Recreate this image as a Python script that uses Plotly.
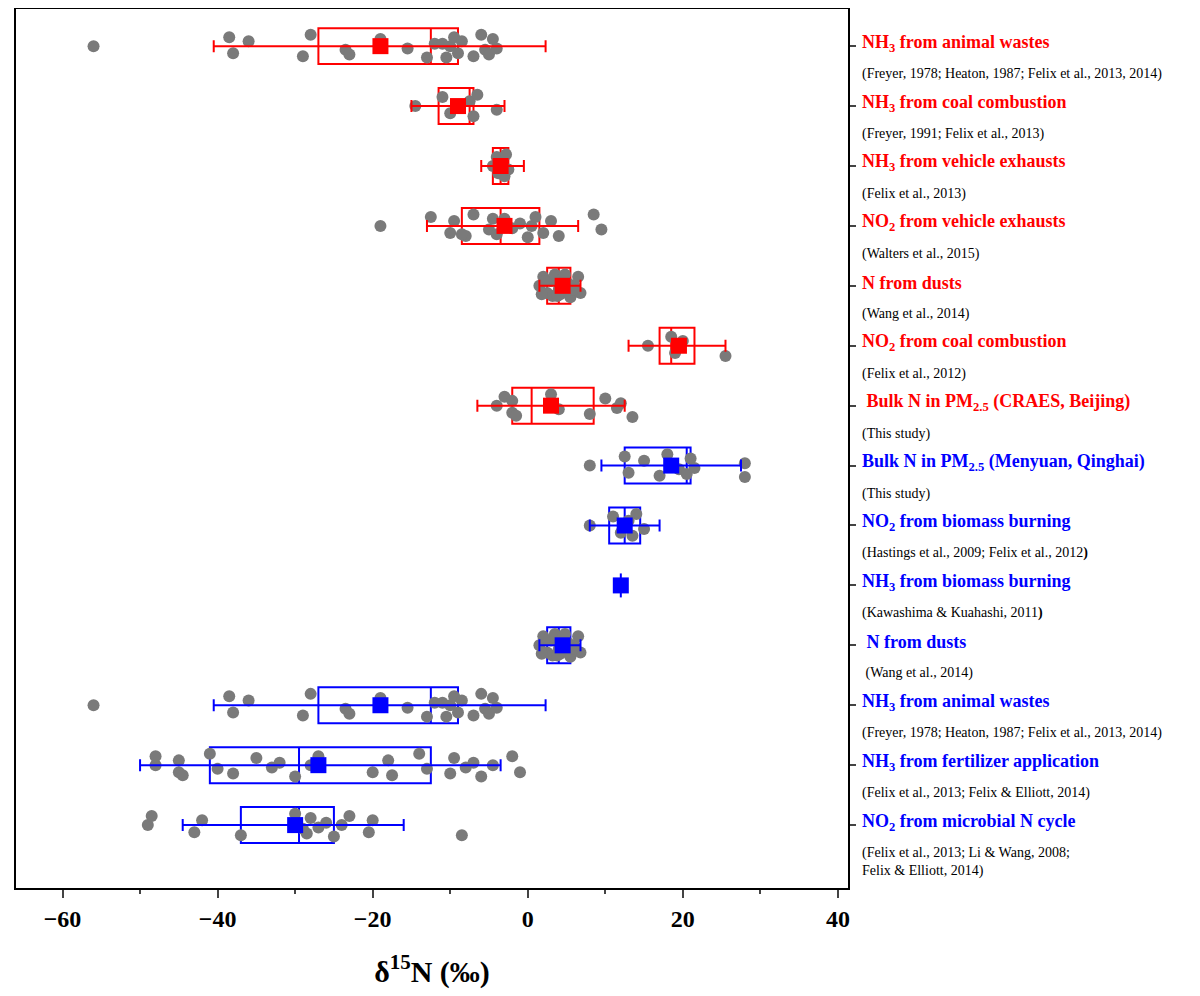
import plotly.graph_objects as go

RED = "#ff0000"
BLUE = "#0000ff"

titles = [
    "NH<sub>3</sub> from animal wastes", "NH<sub>3</sub> from coal combustion",
    "NH<sub>3</sub> from vehicle exhausts", "NO<sub>2</sub> from vehicle exhausts",
    "N from dusts", "NO<sub>2</sub> from coal combustion",
    " Bulk N in PM<sub>2.5</sub> (CRAES, Beijing)", "Bulk N in PM<sub>2.5</sub> (Menyuan, Qinghai)",
    "NO<sub>2</sub> from biomass burning", "NH<sub>3</sub> from biomass burning",
    " N from dusts", "NH<sub>3</sub> from animal wastes",
    "NH<sub>3</sub> from fertilizer application", "NO<sub>2</sub> from microbial N cycle",
]
refs = [
    "(Freyer, 1978; Heaton, 1987; Felix et al., 2013, 2014)", "(Freyer, 1991; Felix et al., 2013)",
    "(Felix et al., 2013)", "(Walters et al., 2015)", "(Wang et al., 2014)", "(Felix et al., 2012)",
    "(This study)", "(This study)", "(Hastings et al., 2009; Felix et al., 2012<b>)</b>",
    "(Kawashima & Kuahashi, 2011<b>)</b>", " (Wang et al., 2014)",
    "(Freyer, 1978; Heaton, 1987; Felix et al., 2013, 2014)",
    "(Felix et al., 2013; Felix & Elliott, 2014)",
    "(Felix et al., 2013; Li & Wang, 2008;<br>Felix & Elliott, 2014)",
]
colors = [RED] * 7 + [BLUE] * 7

q1 = [-27, -11.5, -4.5, -8.5, 2.5, 17, -2, 12.5, 10.5, None, 2.5, -27, -41, -37]
med = [-12.5, -7.5, -3.5, -3.5, 4, 18.5, 0.5, 20.5, 12.5, None, 4, -12.5, -29.5, -29.5]
q3 = [-9, -7, -2.5, 1.5, 5.5, 21.5, 8.5, 21, 14.5, None, 5.5, -9, -12.5, -25]
lo = [-40.5, -15, -6, -13, 1.5, 13, -6.5, 9.5, 8, 12, 1.5, -40.5, -50, -44.5]
hi = [2.3, -3, -0.5, 6.5, 6.8, 25.5, 12.5, 27.5, 17, 12, 6.8, 2.3, -3.5, -16]
mean = [-19, -9, -3.5, -3, 4.5, 19.5, 3, 18.5, 12.5, 12, 4.5, -19, -27, -30]

animal = [-56, -38.5, -38, -36, -29, -28, -23.5, -23, -19, -15.5, -12, -10.5, -10, -9.5,
          -9, -8.5, -7, -6, -5.5, -5, -4.5, -4, -11, -13]
dusts = [1.5, 2, 2.5, 3, 3.2, 3.5, 4, 4.2, 4.5, 5, 5.2, 5.5, 6, 6.5, 6.8, 2.2, 3.8, 4.8, 5.8, 1.8]
pts = [
    animal,
    [-14.5, -11, -10, -7.5, -7, -6.5, -4],
    [-4.5, -4, -3.8, -3.5, -3, -2.8, -2.5],
    [-19, -12.5, -10, -9.5, -8, -7, -5, -4, -3, -2, -1, 0, 0.5, 1, 2, 3, 4, 8.5, 9.5, -8.5, -4.5],
    dusts,
    [15.5, 18.5, 19, 20, 25.5],
    [-4, -3, -2, -2, -1.5, 3, 4, 8, 10, 11.5, 12, 13.5],
    [8, 12.5, 13, 15, 17, 18, 19.5, 20.5, 21, 21.5, 28, 28],
    [8, 11, 12, 13, 13.5, 14, 15],
    [],
    dusts,
    animal,
    [-48, -48, -45, -45, -44.5, -41, -40, -38, -35, -33, -32, -30, -28, -27, -20, -18, -17.5,
     -14, -13, -10, -9.5, -8, -7, -6, -4.5, -2, -1],
    [-49, -48.5, -43, -42, -37, -30, -29, -28.5, -28, -27, -26, -25, -24, -23, -20.5, -20, -8.5],
]

jit = [0.0, -0.15, 0.12, -0.08, 0.17, -0.19, 0.06, 0.14, -0.12, 0.04, -0.04, 0.19]

fig = go.Figure()

# grey data points
px_, py_ = [], []
for i, row in enumerate(pts):
    for k, v in enumerate(row):
        px_.append(v)
        py_.append(i + jit[k % len(jit)])
fig.add_trace(go.Scatter(x=px_, y=py_, mode="markers",
                         marker=dict(color="#7a7a7a", size=12), showlegend=False))

# boxes
for i in range(len(titles)):
    if q1[i] is None:
        continue
    fig.add_trace(go.Box(y=[i], q1=[q1[i]], median=[med[i]], q3=[q3[i]],
                         lowerfence=[q1[i]], upperfence=[q3[i]], orientation="h",
                         width=0.6, fillcolor="rgba(0,0,0,0)",
                         line=dict(color=colors[i], width=2), showlegend=False))

# whiskers + mean squares
for i in range(len(titles)):
    if q1[i] is None:
        ex = None
        ey = dict(type="constant", value=0.2, color=colors[i], thickness=2, width=0)
    else:
        ex = dict(type="data", array=[hi[i] - mean[i]], arrayminus=[mean[i] - lo[i]],
                  color=colors[i], thickness=2, width=6)
        ey = None
    fig.add_trace(go.Scatter(x=[mean[i]], y=[i], mode="markers",
                             marker=dict(symbol="square", size=16, color=colors[i]),
                             error_x=ex, error_y=ey, showlegend=False))

for i in range(len(titles)):
    fig.add_annotation(x=1.014, y=i - 0.05, xref="paper", yref="y", xanchor="left",
                       text="<b>" + titles[i] + "</b>", showarrow=False,
                       font=dict(family="Liberation Serif", size=18, color=colors[i]))
    fig.add_annotation(x=1.014, y=i + 0.3, xref="paper", yref="y", xanchor="left",
                       yanchor="top", text=refs[i], showarrow=False, align="left",
                       font=dict(family="Liberation Serif", size=14, color="black"))

fig.update_layout(
    width=1200, height=996, plot_bgcolor="white", paper_bgcolor="white",
    margin=dict(l=8, r=360, t=1, b=116, autoexpand=False),
    font=dict(family="Liberation Serif", color="black"),
    xaxis=dict(range=[-66, 41.3], tickvals=[-60, -40, -20, 0, 20, 40], ticks="outside",
               ticklen=8, tickwidth=2, showline=True, linewidth=2, linecolor="black",
               mirror=True, showgrid=False, zeroline=False,
               minor=dict(dtick=10, ticks="outside", ticklen=4, tickwidth=2, tick0=0),
               tickfont=dict(size=24, family="Liberation Serif", weight="bold"),
               title=dict(text="<b>δ<sup>15</sup>N (‰)</b>", font=dict(size=30), standoff=30)),
    yaxis=dict(range=[14.05, -0.62], side="right", tickvals=list(range(14)), ticks="outside",
               ticklen=6, tickwidth=2, showticklabels=False, showline=True, linewidth=2,
               linecolor="black", mirror=True, showgrid=False, zeroline=False),
)

fig.write_html("out.html")
